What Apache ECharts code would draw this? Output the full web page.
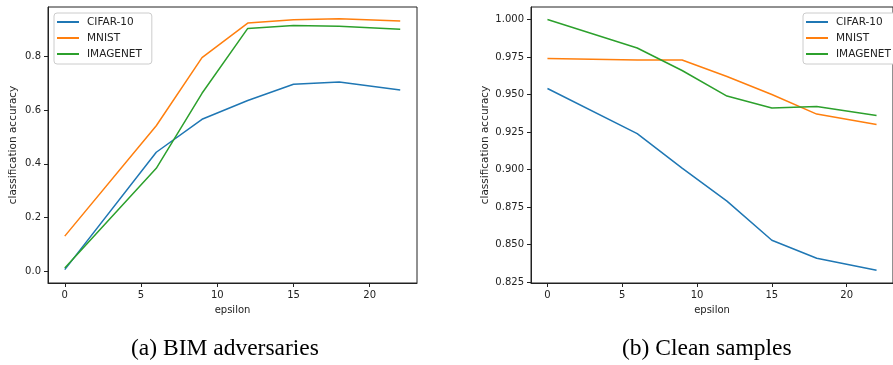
<!DOCTYPE html>
<html>
<head>
<meta charset="utf-8">
<script src="https://cdn.jsdelivr.net/npm/echarts@6/dist/echarts.min.js"></script>
<style>
html, body { margin: 0; padding: 0; background: #fff; }
#chart { width: 893px; height: 365px; }
</style>
</head>
<body>
<div id="chart"></div>
<script>
// epsilon values (x axis)
var epsilon = [0, 6, 9, 12, 15, 18, 22];
var names = ['CIFAR-10', 'MNIST', 'IMAGENET'];
var colors = ['#1f77b4', '#ff7f0e', '#2ca02c'];

// (a) BIM adversaries
var bimCifar = [0.005, 0.443, 0.566, 0.636, 0.697, 0.705, 0.675];
var bimMnist = [0.130, 0.542, 0.796, 0.925, 0.937, 0.941, 0.933];
var bimImagenet = [0.011, 0.383, 0.663, 0.905, 0.916, 0.913, 0.902];

// (b) Clean samples
var cleanCifar = [0.954, 0.924, 0.901, 0.879, 0.853, 0.841, 0.833];
var cleanMnist = [0.974, 0.973, 0.973, 0.962, 0.950, 0.937, 0.930];
var cleanImagenet = [1.000, 0.981, 0.966, 0.949, 0.941, 0.942, 0.936];

// tick labels
var xTicks = [0, 5, 10, 15, 20];
var leftYTicks = [0.0, 0.2, 0.4, 0.6, 0.8];
var rightYTicks = [0.825, 0.850, 0.875, 0.900, 0.925, 0.950, 0.975, 1.000];

var textColor = '#222';
var font = 'DejaVu Sans';

function pairs(ys) {
    return epsilon.map(function (x, i) { return [x, ys[i]]; });
}

function lineSeries(name, ys, idx, color) {
    return {
        name: name,
        type: 'line',
        xAxisIndex: idx,
        yAxisIndex: idx,
        data: pairs(ys),
        showSymbol: false,
        symbol: 'none',
        lineStyle: { width: 1.5, color: color },
        itemStyle: { color: color },
        animation: false
    };
}

function xAxis(idx) {
    return {
        type: 'value',
        gridIndex: idx,
        min: -1.1,
        max: 23.1,
        name: 'epsilon',
        nameLocation: 'middle',
        nameGap: 22,
        nameTextStyle: { color: textColor, fontFamily: font, fontSize: 10 },
        splitLine: { show: false },
        axisLine: { show: true, onZero: false, lineStyle: { color: '#222', width: 1 } },
        axisTick: { show: true, length: 4, inside: false, customValues: xTicks, lineStyle: { color: '#222', width: 1 } },
        axisLabel: { color: textColor, fontFamily: font, fontSize: 10, margin: 7, customValues: xTicks }
    };
}

function yAxis(idx, min, max, ticks, digits) {
    return {
        type: 'value',
        gridIndex: idx,
        min: min,
        max: max,
        name: 'classification accuracy',
        nameLocation: 'middle',
        nameGap: digits === 1 ? 29 : 40,
        nameTextStyle: { color: textColor, fontFamily: font, fontSize: 10.5 },
        splitLine: { show: false },
        axisLine: { show: true, onZero: false, lineStyle: { color: '#222', width: 1 } },
        axisTick: { show: true, length: 4, inside: false, customValues: ticks, lineStyle: { color: '#222', width: 1 } },
        axisLabel: {
            color: textColor, fontFamily: font, fontSize: 10, margin: 7,
            customValues: ticks,
            formatter: function (v) { return v.toFixed(digits); }
        }
    };
}

function legend(left, top) {
    return {
        left: left,
        top: top,
        orient: 'vertical',
        data: names,
        icon: 'rect',
        itemWidth: 22,
        itemHeight: 2,
        itemGap: 4,
        padding: [3, 10, 4, 3],
        borderColor: '#ccc',
        borderWidth: 1,
        borderRadius: 3,
        backgroundColor: '#fff',
        textStyle: { color: textColor, fontFamily: font, fontSize: 10.5, padding: [0, 0, 0, 3], lineHeight: 12 }
    };
}

var chart = echarts.init(document.getElementById('chart'));

var option = {
    backgroundColor: '#fff',
    animation: false,
    grid: [
        { left: 48, top: 7, width: 369, height: 276, show: true, borderColor: '#222', borderWidth: 1, backgroundColor: 'transparent' },
        { left: 531, top: 7, width: 368, height: 276, show: true, borderColor: '#222', borderWidth: 1, backgroundColor: 'transparent' }
    ],
    xAxis: [xAxis(0), xAxis(1)],
    yAxis: [
        yAxis(0, -0.045, 0.985, leftYTicks, 1),
        yAxis(1, 0.8245, 1.0083, rightYTicks, 3)
    ],
    legend: [
        legend(54, 13),
        legend(803, 13)
    ],
    series: [
        lineSeries(names[0], bimCifar, 0, colors[0]),
        lineSeries(names[1], bimMnist, 0, colors[1]),
        lineSeries(names[2], bimImagenet, 0, colors[2]),
        lineSeries(names[0], cleanCifar, 1, colors[0]),
        lineSeries(names[1], cleanMnist, 1, colors[1]),
        lineSeries(names[2], cleanImagenet, 1, colors[2])
    ],
    graphic: [
        {
            type: 'text', x: 131, y: 349,
            style: { text: '(a) BIM adversaries', fill: '#000', font: '23.5px "Liberation Serif"', verticalAlign: 'middle' }
        },
        {
            type: 'text', x: 622, y: 349,
            style: { text: '(b) Clean samples', fill: '#000', font: '23.5px "Liberation Serif"', verticalAlign: 'middle' }
        }
    ]
};

chart.setOption(option);
</script>
</body>
</html>
